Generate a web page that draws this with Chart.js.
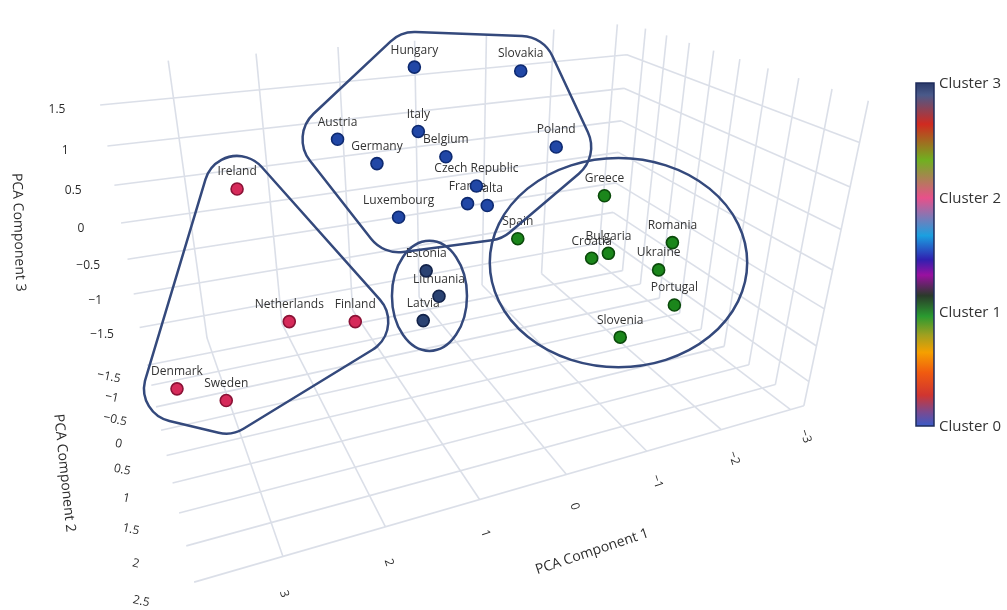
<!DOCTYPE html>
<html>
<head>
<meta charset="utf-8">
<title>PCA clusters</title>
<script src="https://cdn.jsdelivr.net/npm/chart.js@4.4.1/dist/chart.umd.min.js"></script>
<style>
  body { margin: 0; background: #fff; }
  #wrap { width: 1007px; height: 610px; }
</style>
</head>
<body>
<div id="wrap"><canvas id="pcaChart"></canvas></div>
<script>
// countries, their cluster, and where each one sits on the projected 3D view
const countries = [
  "Hungary", "Slovakia", "Austria", "Italy", "Germany", "Belgium", "Poland",
  "Czech Republic", "France", "Malta", "Luxembourg",
  "Estonia", "Lithuania", "Latvia",
  "Ireland", "Netherlands", "Finland", "Denmark", "Sweden",
  "Greece", "Spain", "Bulgaria", "Croatia", "Romania", "Ukraine", "Portugal", "Slovenia"
];
const clusterOf = [0, 0, 0, 0, 0, 0, 0, 0, 0, 0, 0, 3, 3, 3, 2, 2, 2, 2, 2, 1, 1, 1, 1, 1, 1, 1, 1];
const viewX = [413, 521, 335, 417, 375, 445, 557, 476, 467, 487, 397, 425, 438, 422, 233, 286, 353, 172, 222, 606, 518, 610, 593, 675, 661, 677, 622];
const viewY = [61, 65, 135, 127, 160, 153, 143, 183, 201, 203, 215, 270, 296, 321, 186, 322, 322, 391, 403, 193, 237, 252, 257, 241, 269, 305, 338];

const pc1Ticks = [3, 2, 1, 0, -1, -2, -3];
const pc2Ticks = [-1.5, -1, -0.5, 0, 0.5, 1, 1.5, 2, 2.5];
const pc3Ticks = [-1.5, -1, -0.5, 0, 0.5, 1, 1.5];
const clusterNames = ["Cluster 0", "Cluster 1", "Cluster 2", "Cluster 3"];

// scene box
const range1 = [-3.2, 3.8];
const range2 = [-1.9, 2.5];
const range3 = [-1.85, 1.95];

// where some box points fall on the view: [pc1, pc2, pc3, x, y, weight]
const cameraAnchors = [
  [3.8, -1.9, 1.95, 88, 60, 1],
  [3.8, -1.9, -1.85, 138, 350, 1],
  [-3.2, -1.9, 1.95, 630, 16, 1],
  [-3.2, -1.9, -1.85, 611, 263, 1],
  [-3.2, 2.5, 1.95, 874, 98, 1],
  [-3.2, 2.5, -1.85, 808, 408, 2],
  [3.8, 2.5, -1.85, 190, 590, 3],
  [3.8, -1.9, 1.5, 93, 103, 1],
  [3.8, -1.9, 0, 117, 222, 1],
  [3.8, 0, -1.85, 155, 432, 2],
  [3.8, 1, -1.85, 167, 487, 2],
  [-3.2, -1.9, 1.5, 630, 47, 1],
  [-3.2, -1.9, 0.5, 625, 115, 1],
  [-3.2, 2.5, 1.5, 866, 135, 1],
  [-3.2, 0, 1.95, 715, 45, 1],
  [3, -1.9, 1.95, 162, 54, 1]
];

const clusterFill = ["#2147a6", "#1b861b", "#d62a5a", "#2a4272"];
const clusterEdge = ["#0e2a70", "#0b4a0b", "#8a1236", "#13234a"];
const outlineShape = ["hull", "ellipse", "hull", "ellipse"];
const outlinePad = [35, 28, 33, 28];
const gridColor = "rgba(200,206,220,0.65)";
const outlineColor = "#34497c";

// weighted least squares fit of a 3x4 projection from the anchors
function fitCamera(anchors) {
  const rows = [];
  const rhs = [];
  anchors.forEach(([a, b, c, x, y, wt]) => {
    const u = x / 1000, v = y / 1000;
    rows.push([a, b, c, 1, 0, 0, 0, 0, -u * a, -u * b, -u * c].map((e) => e * wt));
    rhs.push(u * wt);
    rows.push([0, 0, 0, 0, a, b, c, 1, -v * a, -v * b, -v * c].map((e) => e * wt));
    rhs.push(v * wt);
  });
  const n = 11;
  const m = [];
  for (let i = 0; i < n; i++) m.push(new Array(n + 1).fill(0));
  rows.forEach((r, k) => {
    for (let i = 0; i < n; i++) {
      for (let j = 0; j < n; j++) m[i][j] += r[i] * r[j];
      m[i][n] += r[i] * rhs[k];
    }
  });
  for (let col = 0; col < n; col++) {
    let piv = col;
    for (let r = col + 1; r < n; r++) {
      if (Math.abs(m[r][col]) > Math.abs(m[piv][col])) piv = r;
    }
    [m[col], m[piv]] = [m[piv], m[col]];
    for (let r = 0; r < n; r++) {
      if (r === col) continue;
      const f = m[r][col] / m[col][col];
      for (let j = col; j <= n; j++) m[r][j] -= f * m[col][j];
    }
  }
  return m.map((row, i) => row[n] / row[i]);
}

const cam = fitCamera(cameraAnchors);

function project(a, b, c) {
  const w = cam[8] * a + cam[9] * b + cam[10] * c + 1;
  return {
    x: ((cam[0] * a + cam[1] * b + cam[2] * c + cam[3]) / w) * 1000,
    y: ((cam[4] * a + cam[5] * b + cam[6] * c + cam[7]) / w) * 1000
  };
}

function fmt(v) {
  return v < 0 ? "\u2212" + String(-v) : String(v);
}

function convexHull(pts) {
  const p = pts.slice().sort((a, b) => a.x - b.x || a.y - b.y);
  const cross = (o, a, b) => (a.x - o.x) * (b.y - o.y) - (a.y - o.y) * (b.x - o.x);
  const lower = [];
  p.forEach((pt) => {
    while (lower.length >= 2 && cross(lower[lower.length - 2], lower[lower.length - 1], pt) <= 0) lower.pop();
    lower.push(pt);
  });
  const upper = [];
  p.slice().reverse().forEach((pt) => {
    while (upper.length >= 2 && cross(upper[upper.length - 2], upper[upper.length - 1], pt) <= 0) upper.pop();
    upper.push(pt);
  });
  upper.pop();
  lower.pop();
  return lower.concat(upper);
}

function roundedHull(ctx, pts, r) {
  const h = convexHull(pts);
  const n = h.length;
  let area = 0;
  for (let i = 0; i < n; i++) {
    const j = (i + 1) % n;
    area += h[i].x * h[j].y - h[j].x * h[i].y;
  }
  const normal = (p, q) => {
    const dx = q.x - p.x, dy = q.y - p.y, len = Math.hypot(dx, dy);
    return area > 0 ? { x: dy / len, y: -dx / len } : { x: -dy / len, y: dx / len };
  };
  ctx.beginPath();
  for (let i = 0; i < n; i++) {
    const prev = h[(i - 1 + n) % n], cur = h[i], next = h[(i + 1) % n];
    const n1 = normal(prev, cur), n2 = normal(cur, next);
    ctx.arc(cur.x, cur.y, r, Math.atan2(n1.y, n1.x), Math.atan2(n2.y, n2.x), area < 0);
  }
  ctx.closePath();
}

// ellipse round the centroid of the points
function enclosingEllipse(ctx, pts, pad) {
  const cx = pts.reduce((s, p) => s + p.x, 0) / pts.length;
  const cy = pts.reduce((s, p) => s + p.y, 0) / pts.length;
  const rx = Math.max(...pts.map((p) => Math.abs(p.x - cx))) + pad;
  const ry = Math.max(...pts.map((p) => Math.abs(p.y - cy))) + pad + 2;
  ctx.beginPath();
  ctx.ellipse(cx, cy, rx, ry, 0, 0, Math.PI * 2);
}

function rotatedText(ctx, text, x, y, deg) {
  ctx.save();
  ctx.translate(x, y);
  ctx.rotate((deg * Math.PI) / 180);
  ctx.fillText(text, 0, 0);
  ctx.restore();
}

const scenePlugin = {
  id: "scene",
  beforeDatasetsDraw(chart) {
    const ctx = chart.ctx;
    const sx = chart.scales.x, sy = chart.scales.y;
    const px = (p) => [sx.getPixelForValue(p.x), sy.getPixelForValue(p.y)];
    const seg = (p, q) => {
      const A = px(p), B = px(q);
      ctx.moveTo(A[0], A[1]);
      ctx.lineTo(B[0], B[1]);
    };
    const [a0, a1] = range1, [b0, b1] = range2, [c0, c1] = range3;
    ctx.save();
    ctx.strokeStyle = gridColor;
    ctx.lineWidth = 1.6;
    ctx.beginPath();
    // back wall
    pc1Ticks.forEach((a) => seg(project(a, b0, c0), project(a, b0, c1)));
    pc3Ticks.forEach((c) => seg(project(a1, b0, c), project(a0, b0, c)));
    // side wall
    pc2Ticks.forEach((b) => seg(project(a0, b, c0), project(a0, b, c1)));
    pc3Ticks.forEach((c) => seg(project(a0, b0, c), project(a0, b1, c)));
    // floor
    pc1Ticks.forEach((a) => seg(project(a, b0, c0), project(a, b1, c0)));
    pc2Ticks.forEach((b) => seg(project(a1, b, c0), project(a0, b, c0)));
    ctx.stroke();

    // tick labels
    ctx.fillStyle = "#2b2b2b";
    ctx.font = "12px 'Open Sans', sans-serif";
    ctx.textAlign = "center";
    ctx.textBaseline = "middle";
    pc1Ticks.forEach((a) => {
      const [x, y] = px(project(a, b1, c0));
      // label sits off the front edge, pushed a bit further out near the viewer
      rotatedText(ctx, fmt(a), x + 8 - 2.3 * a, y + 32 + 1.8 * a, 72);
    });
    pc2Ticks.forEach((b) => {
      const [x, y] = px(project(a1 + 0.45, b, c0));
      rotatedText(ctx, fmt(b), x, y + 4, 12);
    });
    pc3Ticks.forEach((c) => {
      const [x, y] = px(project(a1 + 0.45, b0, c));
      rotatedText(ctx, fmt(c), x, y, 0);
    });

    // axis titles
    ctx.font = "14px 'Open Sans', sans-serif";
    let p = px(project(a1, b0, 0.05));
    rotatedText(ctx, "PCA Component 3", p[0] - 102, p[1] + 13, 88);
    p = px(project(a1, 0.3, c0));
    rotatedText(ctx, "PCA Component 2", p[0] - 100, p[1] + 28, 84);
    p = px(project(0.3, b1, c0));
    rotatedText(ctx, "PCA Component 1", p[0] + 51, p[1] + 70, -18.5);

    // country labels, under the markers
    ctx.font = "12px 'Open Sans', sans-serif";
    ctx.fillStyle = "#333";
    countries.forEach((name, i) => {
      ctx.fillText(name, sx.getPixelForValue(viewX[i]), sy.getPixelForValue(viewY[i]) - 17);
    });

    // colour bar
    const barX = 916, barW = 18, barTop = 83, barBottom = 426;
    const g = ctx.createLinearGradient(0, barBottom, 0, barTop);
    [
      [0.0, "#3a5bc8"], [0.04, "#7a4a90"], [0.09, "#d03530"], [0.155, "#f05a10"],
      [0.215, "#f5a000"], [0.265, "#a0a020"], [0.32, "#2a9a30"], [0.38, "#2a3a2a"],
      [0.44, "#9a10a0"], [0.485, "#3020b0"], [0.555, "#1aa0e0"], [0.665, "#e8508a"],
      [0.775, "#70b020"], [0.88, "#d02a20"], [0.965, "#4a5a8a"], [1.0, "#2a3a6a"]
    ].forEach(([o, col]) => g.addColorStop(o, col));
    ctx.fillStyle = g;
    ctx.fillRect(barX, barTop, barW, barBottom - barTop);
    ctx.strokeStyle = "#1f2d5c";
    ctx.lineWidth = 1.5;
    ctx.strokeRect(barX, barTop, barW, barBottom - barTop);
    ctx.fillStyle = "#333";
    ctx.font = "15px 'Open Sans', sans-serif";
    ctx.textAlign = "left";
    clusterNames.forEach((name, k) => {
      const y = barBottom - (k / (clusterNames.length - 1)) * (barBottom - barTop);
      ctx.fillText(name, barX + barW + 5, y + 1);
    });
    ctx.restore();
  },
  afterDatasetsDraw(chart) {
    const ctx = chart.ctx;
    ctx.save();
    ctx.strokeStyle = outlineColor;
    ctx.lineWidth = 2.5;
    chart.data.datasets.forEach((ds, i) => {
      const pts = chart.getDatasetMeta(i).data.map((el) => ({ x: el.x, y: el.y }));
      if (outlineShape[ds.cluster] === "ellipse") {
        enclosingEllipse(ctx, pts, outlinePad[ds.cluster]);
      } else {
        roundedHull(ctx, pts, outlinePad[ds.cluster]);
      }
      ctx.stroke();
    });
    ctx.restore();
  }
};

const datasets = [0, 1, 2, 3].map((k) => ({
  label: clusterNames[k],
  cluster: k,
  data: countries
    .map((name, i) => ({ x: viewX[i], y: viewY[i], c: clusterOf[i] }))
    .filter((d) => d.c === k),
  pointRadius: 6,
  pointBorderWidth: 1.6,
  pointBackgroundColor: clusterFill[k],
  pointBorderColor: clusterEdge[k]
}));

Chart.defaults.font.family = "'Open Sans', sans-serif";

new Chart(document.getElementById("pcaChart").getContext("2d"), {
  type: "scatter",
  data: { datasets: datasets },
  options: {
    responsive: true,
    maintainAspectRatio: false,
    animation: false,
    layout: { padding: 0 },
    plugins: { legend: { display: false }, tooltip: { enabled: false } },
    scales: {
      x: { type: "linear", min: 0, max: 1007, display: false },
      y: { type: "linear", min: 0, max: 610, reverse: true, display: false }
    }
  },
  plugins: [scenePlugin]
});
</script>
</body>
</html>
